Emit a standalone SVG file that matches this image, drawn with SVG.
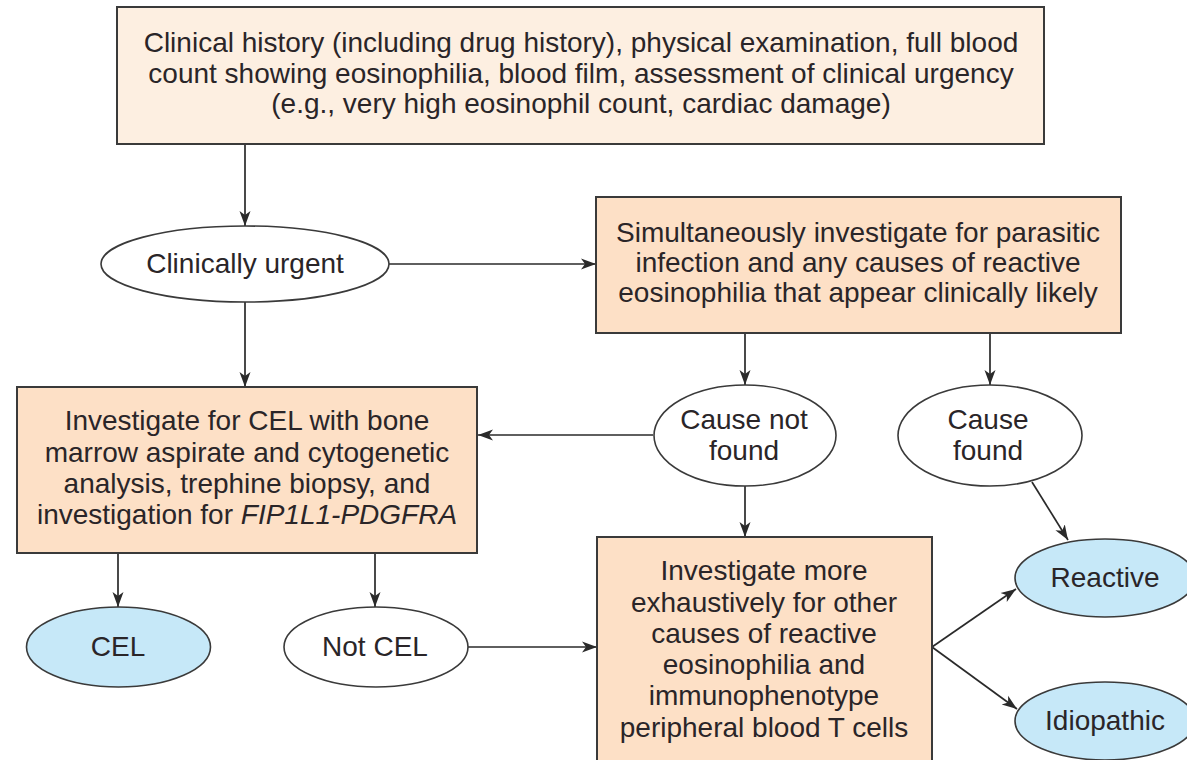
<svg xmlns="http://www.w3.org/2000/svg" width="1187" height="760" viewBox="0 0 1187 760">
<defs>
<style>
.box{fill:#fde0c6;stroke:#3a3a3a;stroke-width:2}
.top{fill:#fdefe1;stroke:#3a3a3a;stroke-width:2}
.ell{fill:#ffffff;stroke:#3a3a3a;stroke-width:1.6}
.blue{fill:#c6e8f8;stroke:#3a3a3a;stroke-width:1.6}
text{font-family:"Liberation Sans",Arial,Helvetica,sans-serif;font-size:28px;fill:#2a2528;text-anchor:middle}
.conn line{stroke:#2a2a2a;stroke-width:1.7;marker-end:url(#ah)}
</style>
<marker id="ah" markerUnits="userSpaceOnUse" markerWidth="18" markerHeight="14" refX="15" refY="7" orient="auto">
<path d="M0,1.5 L15,7 L0,12.5 L4,7 z" fill="#2a2a2a"/>
</marker>
</defs>
<rect width="1187" height="760" fill="#ffffff"/>
<g class="conn" id="connectors">
<line x1="245" y1="144" x2="245" y2="226"/>
<line x1="389" y1="264" x2="596" y2="264"/>
<line x1="245" y1="302" x2="245" y2="387"/>
<line x1="745" y1="333" x2="745" y2="385"/>
<line x1="990" y1="333" x2="990" y2="385"/>
<line x1="653" y1="435" x2="478" y2="435"/>
<line x1="745" y1="486" x2="745" y2="537"/>
<line x1="1032" y1="482" x2="1068" y2="540"/>
<line x1="118" y1="553" x2="118" y2="607"/>
<line x1="375" y1="553" x2="375" y2="607"/>
<line x1="468" y1="647" x2="597" y2="647"/>
<line x1="932" y1="647" x2="1016" y2="589"/>
<line x1="932" y1="647" x2="1017" y2="709"/>
</g>
<g id="n-history">
<rect class="top" x="117" y="7" width="927" height="137"/>
<text x="581" y="52">Clinical history (including drug history), physical examination, full blood</text>
<text x="581" y="83">count showing eosinophilia, blood film, assessment of clinical urgency</text>
<text x="581" y="113">(e.g., very high eosinophil count, cardiac damage)</text>
</g>
<g id="n-urgent">
<ellipse class="ell" cx="245" cy="264" rx="144" ry="38"/>
<text x="245" y="273">Clinically urgent</text>
</g>
<g id="n-simultaneous">
<rect class="box" x="596" y="197" width="525" height="136"/>
<text x="858" y="242">Simultaneously investigate for parasitic</text>
<text x="858" y="272">infection and any causes of reactive</text>
<text x="858" y="302">eosinophilia that appear clinically likely</text>
</g>
<g id="n-cel-investigate">
<rect class="box" x="17" y="387" width="460" height="166"/>
<text x="247" y="430">Investigate for CEL with bone</text>
<text x="247" y="462">marrow aspirate and cytogenetic</text>
<text x="247" y="493">analysis, trephine biopsy, and</text>
<text x="247" y="524">investigation for <tspan font-style="italic">FIP1L1-PDGFRA</tspan></text>
</g>
<g id="n-cause-not-found">
<ellipse class="ell" cx="745" cy="435.5" rx="91" ry="50.5"/>
<text x="744" y="429">Cause not</text>
<text x="744" y="460">found</text>
</g>
<g id="n-cause-found">
<ellipse class="ell" cx="990" cy="435.5" rx="92" ry="50.5"/>
<text x="988" y="429">Cause</text>
<text x="988" y="460">found</text>
</g>
<g id="n-cel">
<ellipse class="blue" cx="118.5" cy="647" rx="92" ry="40"/>
<text x="118" y="656">CEL</text>
</g>
<g id="n-not-cel">
<ellipse class="ell" cx="376" cy="647" rx="92" ry="40"/>
<text x="375" y="656">Not CEL</text>
</g>
<g id="n-exhaustive">
<rect class="box" x="597" y="537" width="335" height="240"/>
<text x="764" y="580">Investigate more</text>
<text x="764" y="612">exhaustively for other</text>
<text x="764" y="643">causes of reactive</text>
<text x="764" y="674">eosinophilia and</text>
<text x="764" y="705">immunophenotype</text>
<text x="764" y="737">peripheral blood T cells</text>
</g>
<g id="n-reactive">
<ellipse class="blue" cx="1105" cy="578" rx="90" ry="39"/>
<text x="1105" y="587">Reactive</text>
</g>
<g id="n-idiopathic">
<ellipse class="blue" cx="1105" cy="721" rx="90" ry="39"/>
<text x="1105" y="730">Idiopathic</text>
</g>
</svg>
